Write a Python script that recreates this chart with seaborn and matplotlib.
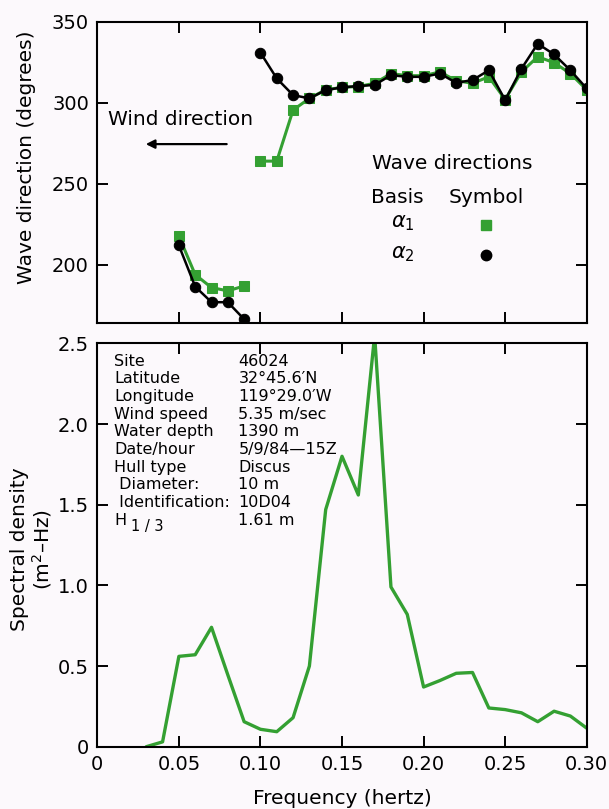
import numpy as np
import pandas as pd
import matplotlib
matplotlib.use("Agg")
import matplotlib.pyplot as plt
import seaborn as sns

# wave direction data (degrees), two frequency bands
freq_low = [0.05, 0.06, 0.07, 0.08, 0.09]
freq_high = [0.10, 0.11, 0.12, 0.13, 0.14, 0.15, 0.16, 0.17, 0.18, 0.19, 0.20,
             0.21, 0.22, 0.23, 0.24, 0.25, 0.26, 0.27, 0.28, 0.29, 0.30]
alpha1_low = [217.7, 194, 186, 184, 187]
alpha1_high = [264, 264, 295.5, 302.7, 308, 309.5, 310, 312, 318, 316.7, 316.7,
               319, 313.6, 312, 316, 302, 319, 328.4, 324.7, 318, 308]
alpha2_low = [212, 186.6, 177, 177, 166.5]
alpha2_high = [330.9, 315, 304.7, 302.7, 307.8, 309.5, 310.3, 311, 317, 316, 316,
               318, 312.3, 314, 320, 301.6, 321, 336.4, 329.8, 320, 308.8]

# spectral density
spec_freq = [0.03, 0.04, 0.05, 0.06, 0.07, 0.08, 0.09, 0.10, 0.11, 0.12, 0.13,
             0.14, 0.15, 0.16, 0.17, 0.18, 0.19, 0.20, 0.21, 0.22, 0.23, 0.24,
             0.25, 0.26, 0.27, 0.28, 0.29, 0.30]
spec_val = [0.0, 0.03, 0.56, 0.57, 0.74, 0.445, 0.155, 0.108, 0.093, 0.18, 0.50,
            1.47, 1.80, 1.56, 2.55, 0.99, 0.82, 0.37, 0.41, 0.455, 0.46, 0.24,
            0.23, 0.21, 0.155, 0.22, 0.19, 0.115]

info_keys = ["Site", "Latitude", "Longitude", "Wind speed", "Water depth",
             "Date/hour", "Hull type", " Diameter:", " Identification:", "H"]
info_vals = ["46024", "32\u00b045.6\u2032N", "119\u00b029.0\u2032W", "5.35 m/sec",
             "1390 m", "5/9/84\u201415Z", "Discus", "10 m", "10D04", "1.61 m"]

bg = "#fcf9fc"
green = "#34a032"

sns.set_style("ticks")
plt.rcParams["font.family"] = ["DejaVu Sans"]
plt.rcParams["mathtext.fontset"] = "dejavusans"
plt.rcParams["text.color"] = "black"
plt.rcParams["axes.labelcolor"] = "black"

fig = plt.figure(figsize=(6.09, 8.09), dpi=100, facecolor=bg)
ax1 = fig.add_axes([0.1598, 0.6004, 0.8036, 0.3728], facecolor=bg)
ax2 = fig.add_axes([0.1598, 0.0770, 0.8036, 0.4986], facecolor=bg)

dirs = pd.DataFrame({
    "freq": freq_low + freq_high,
    "a1": alpha1_low + alpha1_high,
    "a2": alpha2_low + alpha2_high,
    "seg": [0] * len(freq_low) + [1] * len(freq_high),
})

sns.lineplot(data=dirs, x="freq", y="a1", units="seg", estimator=None, ax=ax1,
             color=green, lw=2.2, marker="s", markersize=7, markeredgecolor=green)
sns.lineplot(data=dirs, x="freq", y="a2", units="seg", estimator=None, ax=ax1,
             color="black", lw=1.8, marker="o", markersize=7.5, markeredgecolor="black")

ax1.set_xlim(0, 0.30)
ax1.set_ylim(164, 350)
ax1.set_yticks([200, 250, 300, 350])
ax1.set_xticks([0, 0.05, 0.10, 0.15, 0.20, 0.25, 0.30])
ax1.set_xticklabels([])
ax1.set_xlabel("")
ax1.set_ylabel("Wave direction (degrees)", fontsize=14.5)
ax1.yaxis.set_label_coords(-0.125, 0.55)

ax1.text(0.0066, 289.5, "Wind direction", fontsize=14.5, ha="left", va="center")
ax1.annotate("", xy=(0.028, 274.5), xytext=(0.081, 274.5),
             arrowprops=dict(arrowstyle="-|>", color="black", lw=1.6,
                             mutation_scale=13))
ax1.text(0.2175, 262.8, "Wave directions", fontsize=14.5, ha="center", va="center")
ax1.text(0.184, 241.8, "Basis", fontsize=14.5, ha="center", va="center")
ax1.text(0.2384, 241.8, "Symbol", fontsize=14.5, ha="center", va="center")
ax1.text(0.187, 226, r"$\alpha_1$", fontsize=15, ha="center", va="center")
ax1.text(0.187, 207, r"$\alpha_2$", fontsize=15, ha="center", va="center")
ax1.plot([0.2384], [224.5], marker="s", color=green, markersize=7, clip_on=False)
ax1.plot([0.2384], [206], marker="o", color="black", markersize=7.5, clip_on=False)

spec = pd.DataFrame({"freq": spec_freq, "S": spec_val})
sns.lineplot(data=spec, x="freq", y="S", ax=ax2, color=green, lw=2.4)
ax2.set_xlim(0, 0.30)
ax2.set_ylim(0, 2.5)
ax2.set_xticks([0, 0.05, 0.10, 0.15, 0.20, 0.25, 0.30])
ax2.set_xticklabels(["0", "0.05", "0.10", "0.15", "0.20", "0.25", "0.30"])
ax2.set_yticks([0, 0.5, 1.0, 1.5, 2.0, 2.5])
ax2.set_yticklabels(["0", "0.5", "1.0", "1.5", "2.0", "2.5"])
ax2.set_xlabel("Frequency (hertz)", fontsize=14.5)
ax2.xaxis.set_label_coords(0.5, -0.105)
ax2.xaxis.label.set_va("top")
ax2.set_ylabel("Spectral density\n(m$^2$\u2013Hz)", fontsize=14.5, linespacing=1.05)
ax2.yaxis.set_label_coords(-0.088, 0.49)

y0 = 2.39
for i, (k, v) in enumerate(zip(info_keys, info_vals)):
    yy = y0 - i * 0.1095
    ax2.text(0.0105, yy, k, fontsize=11.5, ha="left", va="center")
    ax2.text(0.0865, yy, v, fontsize=11.5, ha="left", va="center")
# subscript of H_1/3
ax2.text(0.0205, y0 - 9 * 0.1095 - 0.04, "1 / 3", fontsize=10.5, ha="left", va="center")

for ax in (ax1, ax2):
    ax.tick_params(direction="in", length=8, width=1.4, top=True, right=True,
                   labelsize=14, pad=6, colors="black")
    for s in ax.spines.values():
        s.set_visible(True)
        s.set_linewidth(1.5)
        s.set_color("black")

fig.savefig("out.png", dpi=100, facecolor=bg)
